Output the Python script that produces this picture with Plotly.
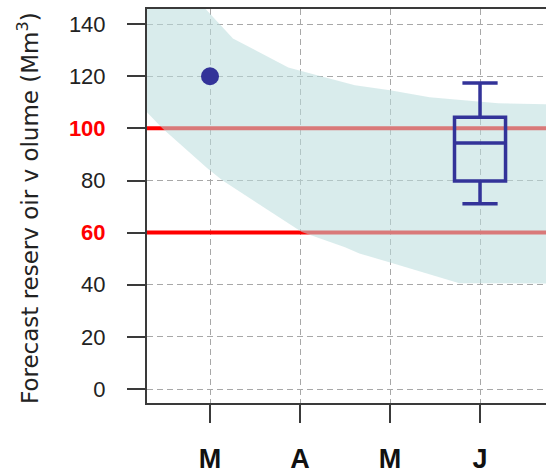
import plotly.graph_objects as go

# ---------------- data ----------------
months = [3, 4, 5, 6]
month_labels = ["M", "A", "M", "J"]
y_ticks = [0, 20, 40, 60, 80, 100, 120, 140]
threshold_levels = [100, 60]

# forecast envelope (upper / lower bounds)
upper_x = [2.25, 2.90, 3.255, 3.87, 4.20, 4.50, 4.61, 5.00, 5.44, 6.20, 6.80]
upper_y = [160.0, 147.7, 134.5, 123.4, 120.3, 117.6, 116.5, 114.6, 111.9, 109.6, 109.2]
lower_x = [2.25, 2.47, 2.97, 3.14, 4.02, 4.50, 4.66, 5.02, 5.77, 6.80]
lower_y = [108.0, 100.0, 84.7, 80.0, 60.2, 54.4, 52.0, 48.3, 40.6, 40.5]

# observed value
obs_month = [3]
obs_value = [120]

# forecast distribution (box)
box_month = [6]
box_low = [71.1]
box_q1 = [79.8]
box_med = [94.4]
box_q3 = [104.3]
box_high = [117.4]

# ---------------- styling ----------------
X_RANGE = [2.30, 6.733]
Y_RANGE = [-5.37, 145.8]
NAVY = "#333399"
GRID = "#a8a8a8"
AXIS = "#3a3a3a"

fig = go.Figure()

# threshold lines (below band)
for lvl in threshold_levels:
    fig.add_trace(go.Scatter(
        x=[X_RANGE[0] - 0.2, X_RANGE[1] + 0.2], y=[lvl, lvl],
        mode="lines", line=dict(color="#ff0000", width=4),
        hoverinfo="skip", showlegend=False))

# envelope band
fig.add_trace(go.Scatter(
    x=upper_x + lower_x[::-1], y=upper_y + lower_y[::-1],
    mode="lines", fill="toself", fillcolor="rgba(185,220,221,0.55)",
    line=dict(width=0, color="rgba(0,0,0,0)"),
    hoverinfo="skip", showlegend=False))

# observed point
fig.add_trace(go.Scatter(
    x=obs_month, y=obs_value, mode="markers",
    marker=dict(color=NAVY, size=18, line=dict(width=0)),
    showlegend=False))

# box on overlay axes so it sits above the band
fig.add_trace(go.Box(
    x=box_month, lowerfence=box_low, q1=box_q1, median=box_med,
    q3=box_q3, upperfence=box_high,
    width=0.567, whiskerwidth=0.69,
    line=dict(color=NAVY, width=3.5), fillcolor="rgba(0,0,0,0)",
    boxpoints=False, showlegend=False, xaxis="x2", yaxis="y2"))

tick_font = dict(family="Liberation Sans, Arial, sans-serif", size=22, color="#222222")
y_ticktext = []
for v in y_ticks:
    if v in threshold_levels:
        y_ticktext.append(f"<b><span style='color:#ff0000'>{v}</span></b>")
    else:
        y_ticktext.append(str(v))

fig.update_layout(
    width=546, height=470,
    margin=dict(l=147, r=0, t=9, b=67, autoexpand=False),
    paper_bgcolor="white", plot_bgcolor="white",
    xaxis=dict(
        range=X_RANGE, tickmode="array", tickvals=months,
        ticktext=[f"<b>{m}</b>" for m in month_labels],
        tickfont=dict(family="Liberation Sans, Arial, sans-serif", size=27, color="#111111"),
        ticks="outside", ticklen=18, tickwidth=2, tickcolor=AXIS,
        ticklabelstandoff=13, automargin=False,
        showline=True, linecolor=AXIS, linewidth=2, mirror=True,
        showgrid=True, gridcolor=GRID, gridwidth=1.3, griddash="6px,4px",
        zeroline=False),
    yaxis=dict(
        range=Y_RANGE, tickmode="array", tickvals=y_ticks, ticktext=y_ticktext,
        tickfont=tick_font,
        ticks="outside", ticklen=18, tickwidth=2, tickcolor=AXIS,
        ticklabelstandoff=17, automargin=False,
        showline=True, linecolor=AXIS, linewidth=2,
        showgrid=True, gridcolor=GRID, gridwidth=1.3, griddash="6px,4px",
        zeroline=False),
    xaxis2=dict(range=X_RANGE, overlaying="x", visible=False),
    yaxis2=dict(range=Y_RANGE, overlaying="y", visible=False),
    annotations=[dict(
        text="Forecast reserv oir v olume (Mm<sup>3</sup>)",
        xref="paper", yref="paper", x=0, y=0.5, xshift=-119, yshift=-2,
        xanchor="center", yanchor="middle", textangle=-90, showarrow=False,
        font=dict(family="DejaVu Sans, sans-serif", size=23, color="#222222"))],
)

fig.write_html("out.html", config={"displayModeBar": False},
               post_script="document.body.style.margin='0';")
